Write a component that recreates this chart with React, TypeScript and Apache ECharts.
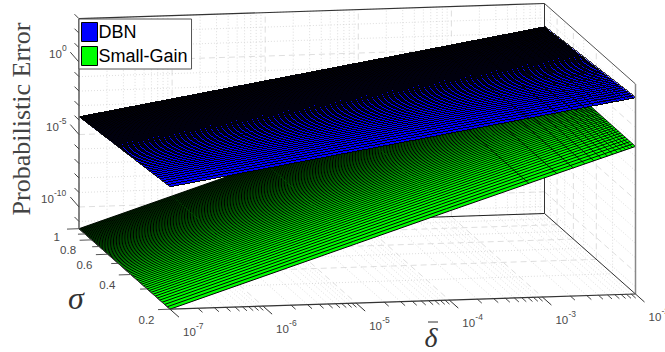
import React, { useEffect, useRef } from "react";
import * as echarts from "echarts";

// tick values
const deltaDecades = [-7, -6, -5, -4, -3, -2];
const deltaMinorMultipliers = [2, 3, 4, 5, 6, 7, 8, 9];
const sigmaMajor = [1, 0.8, 0.6, 0.4, 0.2];
const sigmaMinor = [0.9, 0.7, 0.5, 0.3];
const zMajor = [-10, -5, 0];
const zMinor = [-11, -9, -8, -7, -6, -4, -3, -2, -1, 1, 2, 3];
const zRange = [-11.5, 3];

// surfaces: log10(error) at log10(delta) = -7..-2, at the two sigma edges
const dbnAtSigma02 = [-3.05, -2.03, -1.01, 0.01, 1.03, 2.05];
const dbnAtSigma1 = [-3.77, -2.74, -1.71, -0.68, 0.35, 1.39];
const gainAtSigma02 = [-11.5, -9.45, -7.4, -5.35, -3.32, -1.31];
const gainAtSigma1 = [-11.5, -9.45, -7.4, -5.35, -3.3, -1.24];

// mesh of the surfaces
const sigmaStep = 0.01;
const deltaIntervals = 14;

const MESH = "#000001";
const ink = "#4a4a4a";
const sans = "Liberation Sans";
const serif = "Liberation Serif";

const log02 = Math.log10(0.2);
const ts = (s: number) => Math.log10(s) / log02;

// orthographic view of the box, in page pixels
function project(lx: number, s: number, lz: number): [number, number] {
  const tx = (lx + 7) / 5;
  const t = ts(s);
  const tz = (lz - zRange[0]) / (zRange[1] - zRange[0]);
  return [79 + 465.5 * tx + 91 * t, 228.7 - 15.2 * tx + 80.5 * t - 210 * tz];
}

function nodeZ(table: number[], lx: number) {
  const i = Math.min(4, Math.max(0, Math.floor(lx + 7)));
  const f = lx + 7 - i;
  return table[i] + (table[i + 1] - table[i]) * f;
}

function App() {
  const ref = useRef<HTMLDivElement>(null);
  useEffect(() => {
    const chart = echarts.init(ref.current!, null, { renderer: "svg" });

    const minorDeltas: number[] = [];
    deltaDecades.slice(0, 5).forEach((d) =>
      deltaMinorMultipliers.forEach((m) => minorDeltas.push(d + Math.log10(m)))
    );
    const sMin = 0.2,
      sMax = 1,
      lxMin = -7,
      lxMax = -2,
      zMin = zRange[0],
      zMax = zRange[1];

    const line = (api: any, a: number[], b: number[], stroke: string, lineWidth: number, lineDash?: number[]) => {
      const p = api.coord(project(a[0], a[1], a[2]));
      const q = api.coord(project(b[0], b[1], b[2]));
      return {
        type: "line",
        shape: { x1: p[0], y1: p[1], x2: q[0], y2: q[1] },
        style: { stroke, lineWidth, lineDash, fill: "none" },
      };
    };
    const segment = (api: any, a: number[], dx: number, dy: number, stroke: string, lineWidth: number) => {
      const p = api.coord(project(a[0], a[1], a[2]));
      return {
        type: "line",
        shape: { x1: p[0], y1: p[1], x2: p[0] + dx, y2: p[1] + dy },
        style: { stroke, lineWidth },
      };
    };
    const text = (x: number, y: number, t: string, fontSize: number, extra: any = {}) => ({
      type: "text",
      x,
      y,
      rotation: extra.rotation,
      style: {
        text: t,
        fontSize,
        fontFamily: extra.fontFamily || sans,
        fontStyle: extra.fontStyle || "normal",
        fill: extra.fill || ink,
        align: extra.align || "left",
        verticalAlign: "middle",
      },
    });
    const power = (x: number, y: number, exp: number) => [
      text(x, y, "10", 11.5),
      text(x + 13, y - 6, String(exp), 8.5),
    ];

    const gridMinor = "#cfcfcf";
    const gridMajor = "#d6d6d6";
    const dot = [1, 2];
    const dash = [6, 4];

    const renderGrid = (_: any, api: any) => {
      const c: any[] = [];
      const xLine = (lx: number, col: string, w: number, d: number[]) => {
        c.push(line(api, [lx, sMax, zMin], [lx, sMax, zMax], col, w, d));
        c.push(line(api, [lx, sMax, zMin], [lx, sMin, zMin], col, w, d));
      };
      const sLine = (s: number, col: string, w: number, d: number[]) => {
        c.push(line(api, [lxMax, s, zMin], [lxMax, s, zMax], col, w, d));
        c.push(line(api, [lxMin, s, zMin], [lxMax, s, zMin], col, w, d));
      };
      const zLine = (z: number, col: string, w: number, d: number[]) => {
        c.push(line(api, [lxMin, sMax, z], [lxMax, sMax, z], col, w, d));
        c.push(line(api, [lxMax, sMax, z], [lxMax, sMin, z], col, w, d));
      };
      minorDeltas.forEach((v) => xLine(v, gridMinor, 0.7, dot));
      sigmaMinor.forEach((v) => sLine(v, gridMinor, 0.7, dot));
      zMinor.forEach((v) => zLine(v, gridMinor, 0.7, dot));
      deltaDecades.forEach((v) => xLine(v, gridMajor, 0.8, dash));
      sigmaMajor.forEach((v) => sLine(v, gridMajor, 0.8, dash));
      zMajor.forEach((v) => zLine(v, gridMajor, 0.8, dash));
      // box edges behind the surfaces
      c.push(line(api, [lxMin, sMax, zMin], [lxMax, sMax, zMin], "#222", 1));
      c.push(line(api, [lxMax, sMax, zMin], [lxMax, sMax, zMax], "#333", 1));
      c.push(line(api, [lxMax, sMax, zMin], [lxMax, sMin, zMin], "#333", 1));
      return { type: "group", children: c };
    };

    const renderSurface = (front: number[], back: number[], fill: string, stroke: string, lineWidth: number) => (_: any, api: any) => {
      const c: any[] = [];
      const at = (lx: number, s: number) => {
        const t = ts(s);
        const z = nodeZ(back, lx) * (1 - t) + nodeZ(front, lx) * t;
        return api.coord(project(lx, s, z));
      };
      const outline = [
        ...deltaDecades.map((d) => at(d, sMax)),
        ...deltaDecades.slice().reverse().map((d) => at(d, sMin)),
      ];
      c.push({ type: "polygon", shape: { points: outline }, style: { fill, stroke: "none" } });
      const rows = Math.round((sMax - sMin) / sigmaStep);
      for (let r = 0; r <= rows; r++) {
        const s = sMin + r * sigmaStep;
        c.push({
          type: "polyline",
          shape: { points: deltaDecades.map((d) => at(d, Math.min(s, 1))) },
          style: { stroke, lineWidth, fill: "none" },
        });
      }
      for (let n = 0; n <= deltaIntervals; n++) {
        const lx = Math.log10(1e-7 + (n * (1e-2 - 1e-7)) / deltaIntervals);
        c.push({
          type: "polyline",
          shape: { points: [at(lx, sMax), at(lx, sMin)] },
          style: { stroke, lineWidth: lineWidth * 0.8, fill: "none" },
        });
      }
      return { type: "group", children: c };
    };

    const renderFrame = (_: any, api: any) => {
      const c: any[] = [];
      // front and top edges
      c.push(line(api, [lxMin, sMax, zMin], [lxMin, sMax, zMax], "#666", 1.6));
      c.push(line(api, [lxMin, sMax, zMax], [lxMax, sMax, zMax], "#333", 1.2));
      c.push(line(api, [lxMax, sMax, zMax], [lxMax, sMin, zMax], "#555", 1));
      c.push(line(api, [lxMax, sMin, zMax], [lxMax, sMin, zMin], "#888", 1.5));
      c.push(line(api, [lxMin, sMin, zMin], [lxMax, sMin, zMin], "#333", 1.2));
      c.push(line(api, [lxMin, sMax, zMin], [lxMin, sMin, zMin], "#333", 1));

      // ticks
      deltaDecades.forEach((d) => c.push(segment(api, [d, sMin, zMin], 9, 8, "#333", 1)));
      minorDeltas.forEach((d) => c.push(segment(api, [d, sMin, zMin], 4.5, 4, "#333", 0.9)));
      sigmaMajor.forEach((s) => c.push(segment(api, [lxMin, s, zMin], -12, 0.4, "#555", 1)));
      sigmaMinor.forEach((s) => c.push(segment(api, [lxMin, s, zMin], -7, 0.2, "#555", 1)));
      zMajor.forEach((z) => c.push(segment(api, [lxMin, sMax, z], -8.7, -10, "#444", 1)));
      zMinor.forEach((z) => c.push(segment(api, [lxMin, sMax, z], -4.5, -4.5, "#444", 1)));

      // tick labels
      deltaDecades.forEach((d) => {
        const p = api.coord(project(d, sMin, zMin));
        c.push(...power(p[0] + 13, p[1] + 23, d));
      });
      sigmaMajor.forEach((s) => {
        const p = api.coord(project(lxMin, s, zMin));
        const nudge = s === 1 ? 19 : 15.5;
        c.push(text(p[0] - nudge, p[1] + (s === 1 ? 8 : 10.5), String(s), 11.5, { align: "right" }));
      });
      zMajor.forEach((z) => {
        const p = api.coord(project(lxMin, sMax, z));
        const shift = z === 0 ? 30 : z === -5 ? 33 : 38;
        c.push(...power(p[0] - shift, p[1] - 8, z));
      });

      // axis titles
      c.push(
        text(21, 119, "Probabilistic Error", 26, {
          fontFamily: serif,
          rotation: Math.PI / 2,
          align: "center",
          fill: "#444",
        })
      );
      c.push(text(76, 298, "σ", 32, { fontFamily: serif, fontStyle: "italic", align: "center", fill: "#333" }));
      c.push(text(431, 337, "δ", 28, { fontFamily: serif, fontStyle: "italic", align: "center", fill: "#333" }));
      const b1 = api.coord([428, 322]);
      const b2 = api.coord([438, 322]);
      c.push({
        type: "line",
        shape: { x1: b1[0], y1: b1[1], x2: b2[0], y2: b2[1] },
        style: { stroke: "#333", lineWidth: 1 },
      });
      return { type: "group", children: c };
    };

    const custom = (name: string, renderItem: any, color?: string) => ({
      type: "custom",
      name,
      coordinateSystem: "cartesian2d",
      renderItem,
      data: [[0, 0]],
      silent: true,
      clip: false,
      itemStyle: color ? { color } : undefined,
    });

    chart.setOption({
      animation: false,
      grid: { left: 0, top: 0, width: 665, height: 352 },
      xAxis: { type: "value", min: 0, max: 665, show: false },
      yAxis: { type: "value", min: 0, max: 352, inverse: true, show: false },
      legend: {
        left: 79,
        top: 19,
        orient: "vertical",
        selectedMode: false,
        backgroundColor: "#fff",
        borderColor: "#555",
        borderWidth: 1,
        padding: [3, 4, 3, 2],
        itemWidth: 16,
        itemHeight: 19,
        itemGap: 4,
        textStyle: { fontFamily: sans, fontSize: 18, color: "#000", padding: [0, 0, 0, -4] },
        data: [
          { name: "DBN", icon: "rect", itemStyle: { color: "#0000ff", borderColor: "#000", borderWidth: 1 } },
          { name: "Small-Gain", icon: "rect", itemStyle: { color: "#00ff00", borderColor: "#000", borderWidth: 1 } },
        ],
      },
      series: [
        custom("grid", renderGrid),
        custom("Small-Gain", renderSurface(gainAtSigma02, gainAtSigma1, "#00ff00", "#000", 1), "#00ff00"),
        custom("DBN", renderSurface(dbnAtSigma02, dbnAtSigma1, "#0000ff", MESH, 0.95), "#0000ff"),
        custom("frame", renderFrame),
      ],
    });

    ref.current!.querySelectorAll(`[stroke="${MESH}"]`).forEach((n) => n.setAttribute("shape-rendering", "crispEdges"));

    return () => chart.dispose();
  }, []);

  return <div ref={ref} style={{ position: "fixed", left: 0, top: 0, width: 665, height: 352, background: "#fff" }} />;
}

export default App;
